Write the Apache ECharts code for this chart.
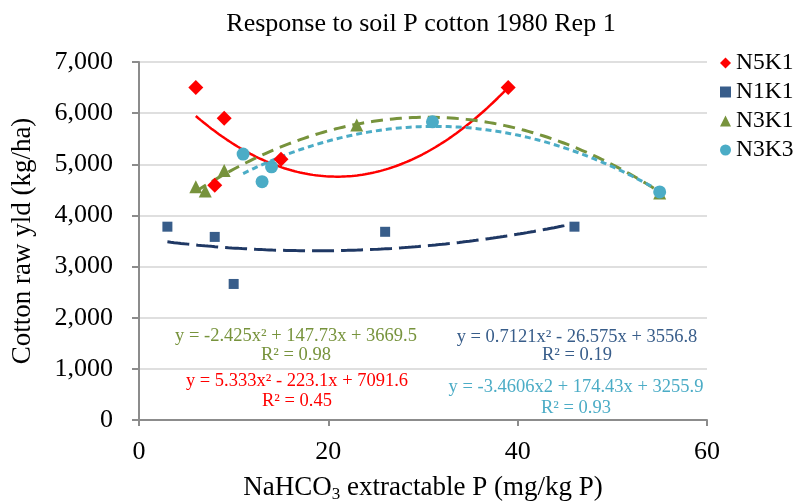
<!DOCTYPE html>
<html>
<head>
<meta charset="utf-8">
<title>Response to soil P cotton 1980 Rep 1</title>
<script src="https://cdn.jsdelivr.net/npm/echarts@6/dist/echarts.min.js"></script>
<style>
  html, body { margin: 0; padding: 0; background: #fff; }
  #chart { width: 796px; height: 502px; }
</style>
</head>
<body>
<div id="chart"></div>
<script>
// Soil test P (NaHCO3 extractable, mg/kg) and cotton raw yield (kg/ha) per treatment
const seriesNames = ['N5K1', 'N1K1', 'N3K1', 'N3K3'];

const pN5K1 = [6, 8, 9, 15, 39];
const yldN5K1 = [6500, 4590, 5900, 5100, 6500];

const pN1K1 = [3, 8, 10, 26, 46];
const yldN1K1 = [3780, 3580, 2660, 3680, 3780];

const pN3K1 = [6, 7, 9, 23, 55];
const yldN3K1 = [4560, 4480, 4880, 5770, 4440];

const pN3K3 = [11, 13, 14, 31, 55];
const yldN3K3 = [5200, 4660, 4950, 5830, 4460];

// Quadratic trendline coefficients [a, b, c] for y = a*x^2 + b*x + c
const fitN5K1 = [5.333, -223.1, 7091.6];
const fitN1K1 = [0.7121, -26.575, 3556.8];
const fitN3K1 = [-2.425, 147.73, 3669.5];

// Trendline equation labels
const eqN5K1 = ['y = 5.333x² - 223.1x + 7091.6', 'R² = 0.45'];
const eqN1K1 = ['y = 0.7121x² - 26.575x + 3556.8', 'R² = 0.19'];
const eqN3K1 = ['y = -2.425x² + 147.73x + 3669.5', 'R² = 0.98'];
const eqN3K3 = ['y = -3.4606x2 + 174.43x + 3255.9', 'R² = 0.93'];

// Axis ticks
const xTicks = [0, 20, 40, 60];
const yTicks = [0, 1000, 2000, 3000, 4000, 5000, 6000, 7000];

const FONT = '"Liberation Serif", "Times New Roman", serif';
const colors = {
  N5K1: '#FF0000',
  N1K1: '#385D8A',
  N1K1line: '#1F3864',
  N3K1: '#77933C',
  N3K3: '#4BACC6'
};

function pairs(xs, ys) {
  return xs.map((x, i) => [x, ys[i]]);
}

// Least-squares quadratic through a series' points, returns [a, b, c]
function quadFit(xs, ys) {
  const S = [0, 0, 0, 0, 0], T = [0, 0, 0];
  xs.forEach((x, i) => {
    for (let k = 0; k < 5; k++) S[k] += Math.pow(x, k);
    for (let k = 0; k < 3; k++) T[k] += Math.pow(x, k) * ys[i];
  });
  // normal equations in unknowns [c, b, a]
  const M = [
    [S[0], S[1], S[2], T[0]],
    [S[1], S[2], S[3], T[1]],
    [S[2], S[3], S[4], T[2]]
  ];
  for (let i = 0; i < 3; i++) {
    for (let r = i + 1; r < 3; r++) {
      const f = M[r][i] / M[i][i];
      for (let c = i; c < 4; c++) M[r][c] -= f * M[i][c];
    }
  }
  const sol = [0, 0, 0];
  for (let i = 2; i >= 0; i--) {
    let s = M[i][3];
    for (let c = i + 1; c < 3; c++) s -= M[i][c] * sol[c];
    sol[i] = s / M[i][i];
  }
  return [sol[2], sol[1], sol[0]];
}

// The N3K3 curve is fitted by least squares from its own points
const fitN3K3 = quadFit(pN3K3, yldN3K3);

// Evaluate a quadratic trendline across the span of a series' x values
function trend(coef, xs) {
  const lo = Math.min(...xs), hi = Math.max(...xs);
  const out = [];
  const n = 120;
  for (let i = 0; i <= n; i++) {
    const x = lo + (hi - lo) * i / n;
    out.push([x, coef[0] * x * x + coef[1] * x + coef[2]]);
  }
  return out;
}

function scatter(name, xs, ys, symbol, size, color) {
  return {
    name: name,
    type: 'scatter',
    data: pairs(xs, ys),
    symbol: symbol,
    symbolSize: size,
    itemStyle: { color: color, opacity: 1 },
    z: 5,
    emphasis: { disabled: true }
  };
}

function trendLine(coef, xs, color, width, dash) {
  return {
    type: 'line',
    data: trend(coef, xs),
    showSymbol: false,
    symbol: 'none',
    smooth: false,
    silent: true,
    lineStyle: { color: color, width: width, type: dash, cap: 'butt' },
    z: 3,
    emphasis: { disabled: true }
  };
}

function eqText(lines, cx, cy, color) {
  return lines.map((t, i) => ({
    type: 'text',
    x: cx,
    y: cy[i],
    silent: true,
    style: {
      text: t,
      fill: color,
      font: '18.5px ' + FONT,
      textAlign: 'center',
      textVerticalAlign: 'middle'
    },
    z: 10
  }));
}

const chart = echarts.init(document.getElementById('chart'), null, {
  renderer: 'canvas', width: 796, height: 502
});

const option = {
  backgroundColor: '#ffffff',
  animation: false,
  title: {
    text: 'Response to soil P cotton 1980 Rep 1',
    left: 421,
    top: 11,
    textAlign: 'center',
    padding: 0,
    textStyle: { fontFamily: FONT, fontSize: 26, fontWeight: 'normal', color: '#000' }
  },
  legend: {
    data: seriesNames,
    orient: 'vertical',
    left: 720,
    top: 51,
    padding: 0,
    itemGap: 5,
    itemWidth: 11,
    itemHeight: 11,
    textStyle: { fontFamily: FONT, fontSize: 23.5, color: '#000' },
    selectedMode: false
  },
  grid: {
    left: 139, right: 89, top: 62, bottom: 82,
    containLabel: false,
    outerBoundsMode: 'none'
  },
  xAxis: {
    type: 'value',
    min: xTicks[0],
    max: xTicks[xTicks.length - 1],
    interval: xTicks[1] - xTicks[0],
    name: 'NaHCO{s|3} extractable P (mg/kg P)',
    nameLocation: 'middle',
    nameGap: 53,
    nameTextStyle: {
      fontFamily: FONT, fontSize: 27, color: '#000', lineHeight: 30,
      rich: {
        s: { fontFamily: FONT, fontSize: 17, color: '#000', verticalAlign: 'bottom', lineHeight: 17 }
      }
    },
    axisLine: { show: true, lineStyle: { color: '#8C8C8C', width: 2 } },
    axisTick: { show: true, inside: false, length: 6, lineStyle: { color: '#8C8C8C', width: 2 } },
    axisLabel: { fontFamily: FONT, fontSize: 26, color: '#000', margin: 19 },
    splitLine: { show: false }
  },
  yAxis: {
    type: 'value',
    min: yTicks[0],
    max: yTicks[yTicks.length - 1],
    interval: yTicks[1] - yTicks[0],
    name: 'Cotton raw yld (kg/ha)',
    nameLocation: 'middle',
    nameGap: 103,
    nameTextStyle: { fontFamily: FONT, fontSize: 27, color: '#000' },
    axisLine: { show: true, lineStyle: { color: '#8C8C8C', width: 2 } },
    axisTick: { show: true, inside: false, length: 7, lineStyle: { color: '#8C8C8C', width: 2 } },
    axisLabel: {
      fontFamily: FONT, fontSize: 26, color: '#000', margin: 26,
      formatter: v => v.toLocaleString('en-US')
    },
    splitLine: { show: true, lineStyle: { color: '#D4D4D4', width: 1.5 } }
  },
  series: [
    trendLine(fitN5K1, pN5K1, colors.N5K1, 2.5, 'solid'),
    trendLine(fitN1K1, pN1K1, colors.N1K1line, 3, [22, 7]),
    trendLine(fitN3K1, pN3K1, colors.N3K1, 3, [12, 7]),
    trendLine(fitN3K3, pN3K3, colors.N3K3, 3, [6, 4]),
    scatter('N5K1', pN5K1, yldN5K1, 'diamond', 15, colors.N5K1),
    scatter('N1K1', pN1K1, yldN1K1, 'rect', 10, colors.N1K1),
    scatter('N3K1', pN3K1, yldN3K1, 'triangle', 13, colors.N3K1),
    scatter('N3K3', pN3K3, yldN3K3, 'circle', 13, colors.N3K3)
  ],
  graphic: [].concat(
    eqText(eqN3K1, 296, [336, 355], colors.N3K1),
    eqText(eqN5K1, 297, [381, 401], colors.N5K1),
    eqText(eqN1K1, 577, [337, 355], colors.N1K1),
    eqText(eqN3K3, 576, [387, 408], colors.N3K3)
  )
};

chart.setOption(option);
</script>
</body>
</html>
